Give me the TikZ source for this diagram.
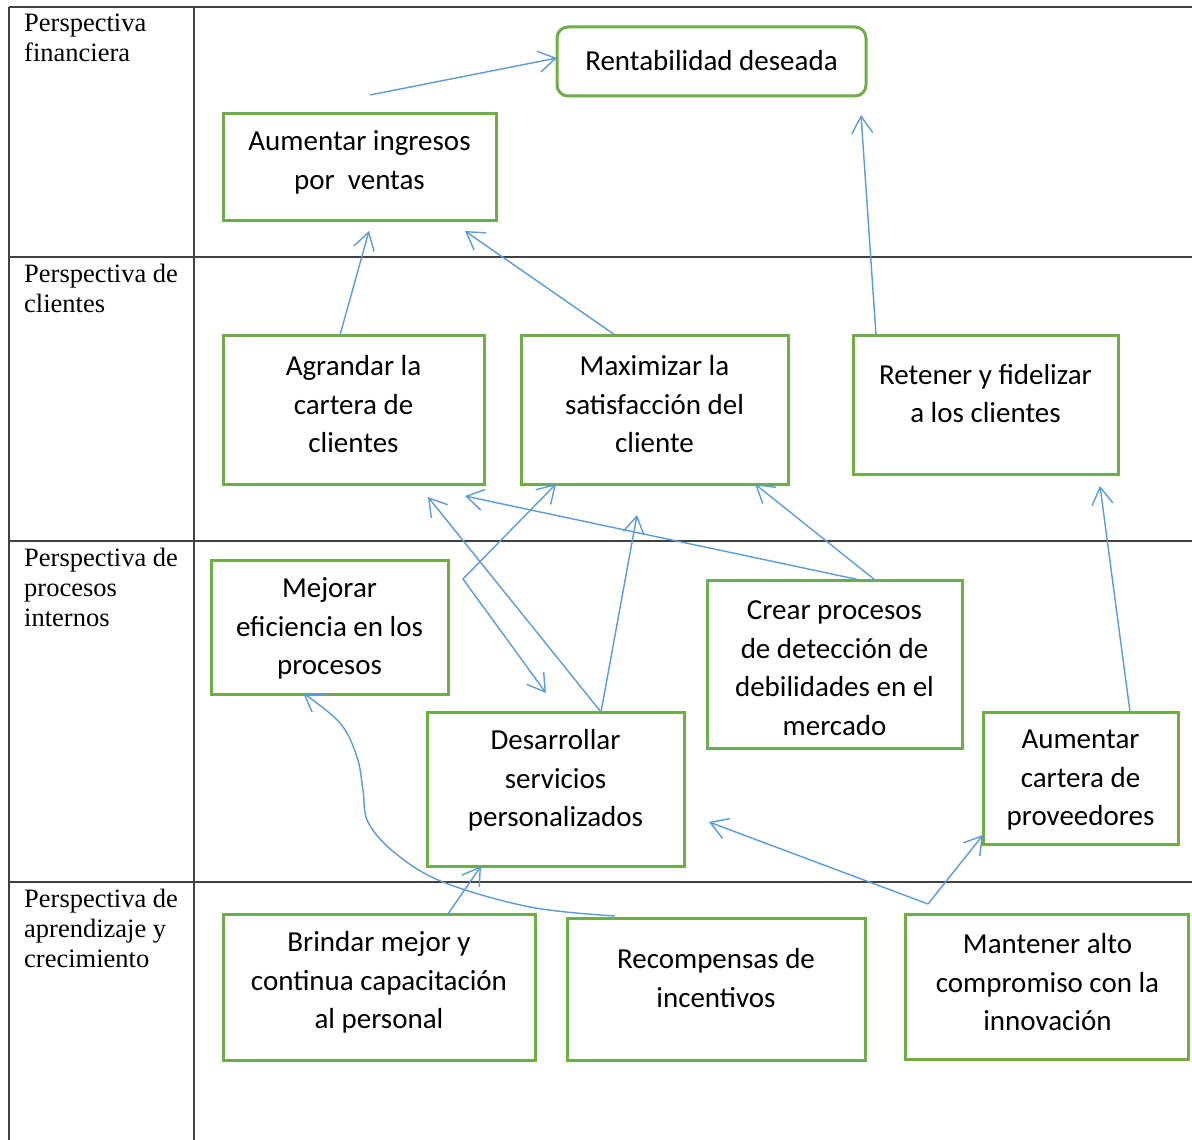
\documentclass[tikz,border=0pt]{standalone}
\usepackage{fontspec}
\setmainfont{Carlito}
\newfontfamily\tnr{Liberation Serif}
\usetikzlibrary{arrows.meta, calc}
\definecolor{boxgreen}{RGB}{112,173,71}
\definecolor{arrowblue}{RGB}{91,155,213}
\definecolor{rulegray}{RGB}{64,64,64}

\begin{document}
\begin{tikzpicture}[
    x=1pt, y=-1pt,
    >={Straight Barb[length=17pt, width=21pt]},
    box/.style={draw=boxgreen, line width=3pt, anchor=north west,
                inner sep=0pt, outer sep=0pt},
    txt/.style={align=center, inner sep=0pt,
                font=\fontsize{29}{38.5}\selectfont},
    plab/.style={align=left, anchor=north west, inner sep=0pt,
                 font=\tnr\fontsize{26.5}{30}\selectfont},
    rule/.style={draw=rulegray, line width=1.6pt},
    arr/.style={draw=arrowblue, line width=1.4pt, ->}
  ]
  \useasboundingbox (0,0) rectangle (1192,1140);

  % table
  \draw[rule] (9,7) -- (1192,7);
  \draw[rule] (9,257) -- (1192,257);
  \draw[rule] (9,541) -- (1192,541);
  \draw[rule] (9,882) -- (1192,882);
  \draw[rule] (9,7) -- (9,1140);
  \draw[rule] (194,7) -- (194,1140);

  % perspectives
  \node[plab] (pfin) at (24,14)  {Perspectiva\\financiera};
  \node[plab] (pcli) at (24,264) {Perspectiva de\\clientes};
  \node[plab] (ppro) at (24,548) {Perspectiva de\\procesos\\internos};
  \node[plab] (papr) at (24,889) {Perspectiva de\\aprendizaje y\\crecimiento};

  % financial
  \node[box, rounded corners=11pt, minimum width=309pt, minimum height=69pt] (rent) at (557,27) {};
  \node[txt] (rentT) at (711.5,61) {Rentabilidad deseada};
  \node[box, minimum width=273pt, minimum height=107pt] (ing) at (223,113) {};
  \node[txt] (ingT) at (359.5,162.5) {Aumentar ingresos\\por\ \ ventas};

  % customers
  \node[box, minimum width=261pt, minimum height=149pt] (agr) at (223,335) {};
  \node[txt] (agrT) at (353.5,404.5) {Agrandar la\\cartera de\\clientes};
  \node[box, minimum width=267pt, minimum height=149pt] (max) at (521,335) {};
  \node[txt] (maxT) at (654.5,404.5) {Maximizar la\\satisfacción del\\cliente};
  \node[box, minimum width=265pt, minimum height=139pt] (ret) at (853,335) {};
  \node[txt] (retT) at (985.5,393.5) {Retener y fidelizar\\a los clientes};

  % internal processes
  \node[box, minimum width=237pt, minimum height=134pt] (mej) at (211,560) {};
  \node[txt] (mejT) at (329.5,628.5) {Mejorar\\eficiencia en los\\procesos};
  \node[box, minimum width=257pt, minimum height=154pt] (des) at (427,712) {};
  \node[txt] (desT) at (555.5,780.5) {Desarrollar\\servicios\\personalizados};
  \node[box, minimum width=255pt, minimum height=168pt] (cre) at (707,580) {};
  \node[txt] (creT) at (834.5,668) {Crear procesos\\de detección de\\debilidades en el\\mercado};
  \node[box, minimum width=195pt, minimum height=132pt] (aum) at (983,712) {};
  \node[txt] (aumT) at (1080.5,780.5) {Aumentar\\cartera de\\proveedores};

  % learning and growth
  \node[box, minimum width=312pt, minimum height=146pt] (bri) at (223,914) {};
  \node[txt] (briT) at (379,982.5) {Brindar mejor y\\continua capacitación\\al personal};
  \node[box, minimum width=298pt, minimum height=142pt] (rec) at (567,918) {};
  \node[txt] (recT) at (716,978) {Recompensas de\\incentivos};
  \node[box, minimum width=283pt, minimum height=145pt] (man) at (905,914) {};
  \node[txt] (manT) at (1047.5,982.5) {Mantener alto\\compromiso con la\\innovación};

  % free ends of the connectors
  \coordinate (finStart) at (370,95);
  \coordinate (ingTipA) at (369,231);
  \coordinate (ingTipB) at (465,231);
  \coordinate (rentTip) at (861,115);
  \coordinate (agrTipA) at (465,496);
  \coordinate (agrTipB) at (428,497);
  \coordinate (maxTip) at (637,515);
  \coordinate (bend) at (463,579);
  \coordinate (desTipA) at (546,693);
  \coordinate (manStart) at (928,904);
  \coordinate (desTipB) at (709,822);
  \coordinate (retTip) at (1100,486);

  % connectors
  \draw[arr] (finStart) -- ($(rent.north west)+(0,31)$);
  \draw[arr] ($(agr.north west)+(117,0)$) -- (ingTipA);
  \draw[arr] ($(max.north west)+(94,0)$) -- (ingTipB);
  \draw[arr] ($(ret.north west)+(23,0)$) -- (rentTip);
  \draw[arr] ($(cre.north west)+(153,0)$) -- (agrTipA);
  \draw[arr] ($(cre.north west)+(168,0)$) -- ($(max.south west)+(234,0)$);
  \draw[arr] ($(des.north west)+(174,0)$) -- (maxTip);
  \draw[arr] ($(des.north west)+(174,0)$) -- (agrTipB);
  \draw[arr, <->] ($(max.south west)+(35,0)$) -- (bend) -- (desTipA);
  \draw[arr] ($(bri.north west)+(225,0)$) -- ($(des.south west)+(54,0)$);
  \draw[arr] plot[smooth, tension=0.6] coordinates {($(rec.north west)+(48,-2)$)
    (530,907) (443,882) (395,853) (368,822) (363,790) (357,757) (340,723)
    ($(mej.south west)+(92,-1)$)};
  \draw[arr] (manStart) -- (desTipB);
  \draw[arr] (manStart) -- ($(aum.south west)+(0,-9)$);
  \draw[arr] ($(aum.north west)+(147,0)$) -- (retTip);
\end{tikzpicture}
\end{document}
